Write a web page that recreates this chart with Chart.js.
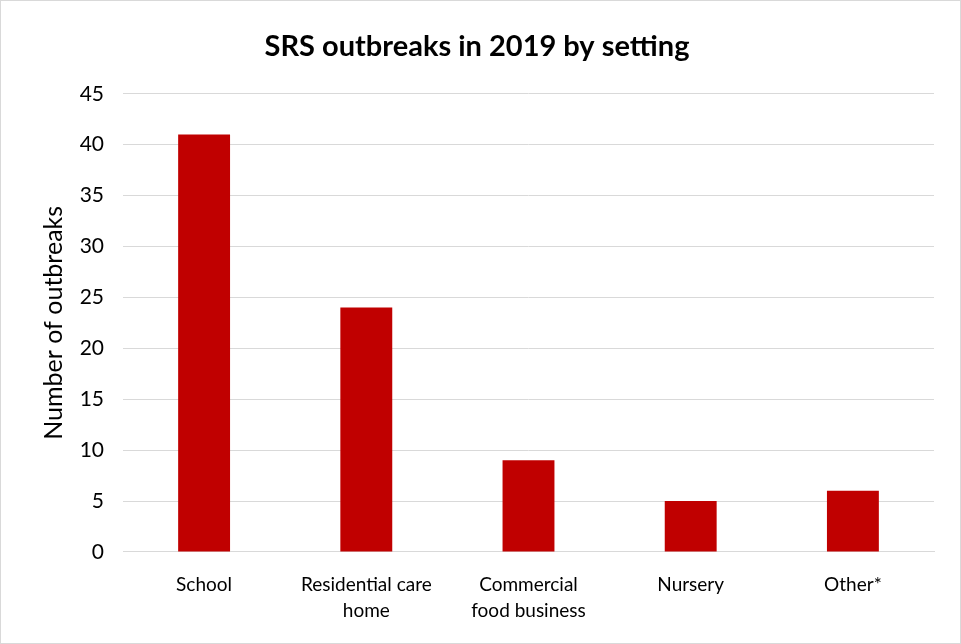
<!DOCTYPE html>
<html>
<head>
<meta charset="utf-8">
<script src="https://cdn.jsdelivr.net/npm/chart.js@4/dist/chart.umd.min.js"></script>
<style>
  html, body { margin: 0; padding: 0; background: #fff; }
  #wrap { position: relative; width: 959px; height: 642px; border: 1px solid #d9d9d9; }
</style>
</head>
<body>
<div id="wrap"><canvas id="chart"></canvas></div>
<script>
const settings = [['School'], ['Residential care', 'home'], ['Commercial', 'food business'], ['Nursery'], ['Other*']];
const outbreaks = [41, 24, 9, 5, 6];
const yTicks = [0, 5, 10, 15, 20, 25, 30, 35, 40, 45];

const FONT = 'Lato, "Open Sans", sans-serif';

new Chart(document.getElementById('chart'), {
  type: 'bar',
  data: {
    labels: settings,
    datasets: [{
      label: 'Outbreaks',
      data: outbreaks,
      backgroundColor: '#c00000',
      categoryPercentage: 1,
      barPercentage: 0.32
    }]
  },
  options: {
    responsive: true,
    maintainAspectRatio: false,
    animation: false,
    layout: { padding: { left: 19, right: 26, top: 10, bottom: 7 } },
    plugins: {
      legend: { display: false },
      tooltip: { enabled: false },
      title: {
        display: true,
        text: 'SRS outbreaks in 2019 by setting',
        color: '#000',
        font: { family: FONT, size: 29, weight: 'bold' },
        padding: { top: 18, bottom: 30 }
      }
    },
    scales: {
      x: {
        grid: { display: false },
        border: { color: '#d9d9d9' },
        ticks: { color: '#000', font: { family: FONT, size: 19, lineHeight: 1.37 }, maxRotation: 0, padding: 12 }
      },
      y: {
        min: 0,
        max: 45,
        afterBuildTicks: axis => { axis.ticks = yTicks.map(v => ({ value: v })); },
        afterFit: axis => { axis.width = 103; },
        grid: { color: '#d9d9d9', drawTicks: false },
        border: { display: false },
        ticks: { color: '#000', font: { family: FONT, size: 21 }, padding: 19 },
        title: {
          display: true,
          text: 'Number of outbreaks',
          color: '#000',
          font: { family: FONT, size: 25 },
          padding: { top: 19, bottom: 0 }
        }
      }
    }
  }
});
</script>
</body>
</html>
